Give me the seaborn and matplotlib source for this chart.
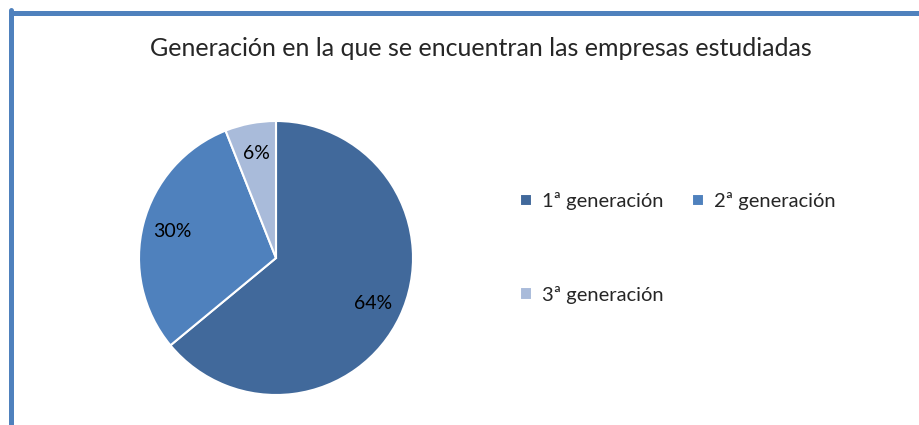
import matplotlib
matplotlib.use("Agg")
import matplotlib.pyplot as plt
from matplotlib.lines import Line2D
import seaborn as sns

# Data
categories = ["1ª generación", "2ª generación", "3ª generación"]
shares = [64, 30, 6]
colors = ["#41699B", "#4F81BD", "#A9BBDA"]
title = "Generación en la que se encuentran las empresas estudiadas"

sns.set_style("white")
plt.rcParams['font.family'] = ['Lato', 'DejaVu Sans']

fig = plt.figure(figsize=(9.19, 4.25), dpi=100)

# pie axes (center ~ (276, 258) px, radius ~137 px)
ax = fig.add_axes([(276 - 137) / 919, (425 - 258 - 137) / 425, 274 / 919, 274 / 425])
wedges, texts, autotexts = ax.pie(
    shares, colors=colors, startangle=90, counterclock=False,
    autopct="%d%%", pctdistance=0.78,
    wedgeprops=dict(edgecolor="white", linewidth=1.5),
    textprops=dict(fontsize=14, color="black"),
)
ax.set_xlim(-1, 1)
ax.set_ylim(-1, 1)
ax.set_aspect("equal")

fig.text(481 / 919, 1 - 48 / 425, title, ha="center", va="center", fontsize=18)

# legend, two columns filled row by row (1ª, 2ª / 3ª)
order = [0, 2, 1]
leg = fig.legend(
    [wedges[i] for i in order], [categories[i] for i in order],
    ncol=2, frameon=False,
    loc="upper left", bbox_to_anchor=(502 / 919, 1 - 174 / 425),
    handlelength=0.6, handleheight=0.6, handletextpad=0.5,
    labelspacing=3.75, columnspacing=1.4, fontsize=14.5,
)

# blue frame (top and left edges)
frame_color = "#4F81BD"
fig.add_artist(Line2D([10.5 / 919, 1], [1 - 12.5 / 425, 1 - 12.5 / 425],
                      transform=fig.transFigure, color=frame_color, linewidth=3.6))
fig.add_artist(Line2D([10.5 / 919, 10.5 / 919], [0, 1 - 10 / 425],
                      transform=fig.transFigure, color=frame_color, linewidth=3.6))

fig.savefig("out.png", dpi=100)
